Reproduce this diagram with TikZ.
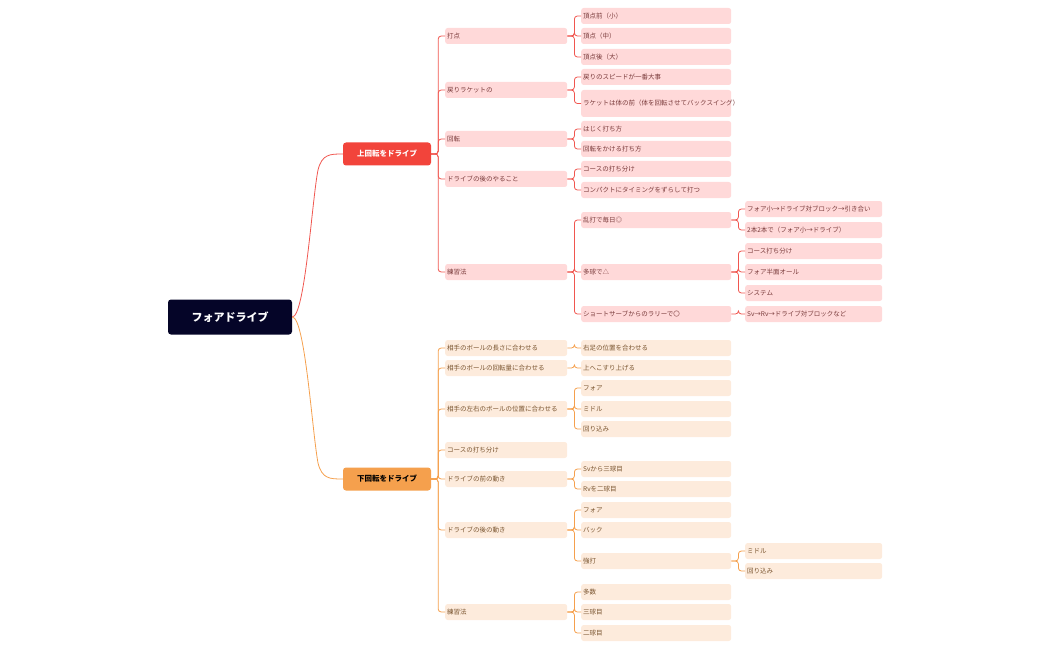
\documentclass[tikz,border=0pt]{standalone}
\usepackage{fontspec}
\setmainfont{Noto Sans CJK JP}
\begin{document}
\begin{tikzpicture}[x=1pt,y=-1pt,
 base/.style={rounded corners=2.5pt,anchor=west,minimum height=16pt,inner sep=2pt,font=\fontsize{6.5}{8}\selectfont,align=left,text height=6pt,text depth=1.5pt},
 rb/.style={base,fill=rfill,text=rtext},
 ob/.style={base,fill=ofill,text=otext},
 lA/.style={text width=118pt},
 lB/.style={text width=146pt},
 lC/.style={text width=133pt},
 rl/.style={draw=rline,line width=0.8pt,rounded corners=3pt},
 ol/.style={draw=oline,line width=0.8pt,rounded corners=3pt}]
\definecolor{rfill}{HTML}{FFD9D9}\definecolor{ofill}{HTML}{FDEBDC}
\definecolor{rtext}{HTML}{7A3B3B}\definecolor{otext}{HTML}{7A5530}
\definecolor{rline}{HTML}{F0564F}\definecolor{oline}{HTML}{F5A04D}
\definecolor{rtop}{HTML}{F2443B}\definecolor{otop}{HTML}{F5A04D}
\definecolor{rootc}{HTML}{050528}
\newcommand\cn[3]{\draw[#1] (#2.east) -- ++(7,0) |- (#3.west);}
\useasboundingbox (0,0) rectangle (1050,650);
\node[fill=rootc,text=white,rounded corners=3pt,minimum width=124pt,minimum height=35pt,font=\bfseries\fontsize{11}{13}\selectfont] (root) at (230,317) {フォアドライブ};
\node[fill=rtop,text=white,rounded corners=3pt,minimum width=88pt,minimum height=23pt,font=\bfseries\fontsize{7.5}{9}\selectfont] (up) at (387,154) {上回転をドライブ};
\node[fill=otop,text=black,rounded corners=3pt,minimum width=88pt,minimum height=23pt,font=\bfseries\fontsize{7.5}{9}\selectfont] (dn) at (387,479) {下回転をドライブ};
\draw[rline,line width=0.8pt] (root.east) .. controls (305,317) and (312,200) .. (318,170) .. controls (322,154) and (330,154) .. (up.west);
\draw[oline,line width=0.8pt] (root.east) .. controls (305,317) and (312,430) .. (318,463) .. controls (322,479) and (330,479) .. (dn.west);
% red level 2
\node[rb,lA] (a1) at (445,36) {打点};
\node[rb,lA] (a2) at (445,90) {戻りラケットの};
\node[rb,lA] (a3) at (445,139) {回転};
\node[rb,lA] (a4) at (445,179) {ドライブの後のやること};
\node[rb,lA] (a5) at (445,272) {練習法};
\foreach \c in {a1,a2,a3,a4,a5}{\cn{rl}{up}{\c}}
\node[rb,lB] (a11) at (581,16) {頂点前（小）};
\node[rb,lB] (a12) at (581,36) {頂点（中）};
\node[rb,lB] (a13) at (581,57) {頂点後（大）};
\node[rb,lB] (a21) at (581,77) {戻りのスピードが一番大事};
\node[rb,lB,text height=,text depth=,minimum height=27pt,inner ysep=3pt] (a22) at (581,103.5) {ラケットは体の前（体を回転させてバックスイング）};
\node[rb,lB] (a31) at (581,129) {はじく打ち方};
\node[rb,lB] (a32) at (581,149) {回転をかける打ち方};
\node[rb,lB] (a41) at (581,169) {コースの打ち分け};
\node[rb,lB] (a42) at (581,190) {コンパクトにタイミングをずらして打つ};
\node[rb,lB] (a51) at (581,220) {乱打で毎日◎};
\node[rb,lB] (a52) at (581,272) {多球で△};
\node[rb,lB] (a53) at (581,314) {ショートサーブからのラリーで〇};
\foreach \p/\c in {a1/a11,a1/a12,a1/a13,a2/a21,a2/a22,a3/a31,a3/a32,a4/a41,a4/a42,a5/a51,a5/a52,a5/a53}{\cn{rl}{\p}{\c}}
\node[rb,lC] (b1) at (745,209) {フォア小→ドライブ対ブロック→引き合い};
\node[rb,lC] (b2) at (745,230) {2本2本で（フォア小→ドライブ）};
\node[rb,lC] (b3) at (745,251) {コース打ち分け};
\node[rb,lC] (b4) at (745,272) {フォア半面オール};
\node[rb,lC] (b5) at (745,293) {システム};
\node[rb,lC] (b6) at (745,314) {Sv→Rv→ドライブ対ブロックなど};
\foreach \p/\c in {a51/b1,a51/b2,a52/b3,a52/b4,a52/b5,a53/b6}{\cn{rl}{\p}{\c}}
% orange
\node[ob,lA] (c1) at (445,348) {相手のボールの長さに合わせる};
\node[ob,lA] (c2) at (445,368) {相手のボールの回転量に合わせる};
\node[ob,lA] (c3) at (445,409) {相手の左右のボールの位置に合わせる};
\node[ob,lA] (c4) at (445,450) {コースの打ち分け};
\node[ob,lA] (c5) at (445,479) {ドライブの前の動き};
\node[ob,lA] (c6) at (445,530) {ドライブの後の動き};
\node[ob,lA] (c7) at (445,612) {練習法};
\foreach \c in {c1,c2,c3,c4,c5,c6,c7}{\cn{ol}{dn}{\c}}
\node[ob,lB] (c11) at (581,348) {右足の位置を合わせる};
\node[ob,lB] (c21) at (581,368) {上へこすり上げる};
\node[ob,lB] (c31) at (581,388) {フォア};
\node[ob,lB] (c32) at (581,409) {ミドル};
\node[ob,lB] (c33) at (581,429) {回り込み};
\node[ob,lB] (c51) at (581,469) {Svから三球目};
\node[ob,lB] (c52) at (581,489) {Rvを二球目};
\node[ob,lB] (c61) at (581,510) {フォア};
\node[ob,lB] (c62) at (581,530) {バック};
\node[ob,lB] (c63) at (581,561) {強打};
\node[ob,lB] (c71) at (581,592) {多数};
\node[ob,lB] (c72) at (581,612) {三球目};
\node[ob,lB] (c73) at (581,633) {二球目};
\foreach \p/\c in {c1/c11,c2/c21,c3/c31,c3/c32,c3/c33,c5/c51,c5/c52,c6/c61,c6/c62,c6/c63,c7/c71,c7/c72,c7/c73}{\cn{ol}{\p}{\c}}
\node[ob,lC] (d1) at (745,551) {ミドル};
\node[ob,lC] (d2) at (745,571) {回り込み};
\foreach \c in {d1,d2}{\cn{ol}{c63}{\c}}
\end{tikzpicture}
\end{document}
